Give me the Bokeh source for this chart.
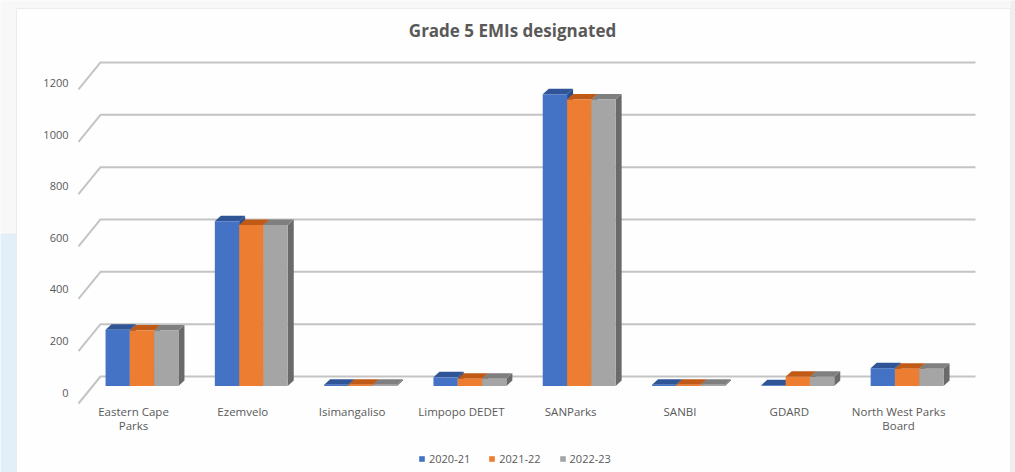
from bokeh.plotting import figure
from bokeh.models import Range1d, Legend, LegendItem
from bokeh.embed import file_html
from bokeh.resources import INLINE
from bokeh.core.properties import value

# ---- data -------------------------------------------------------------
categories = ["Eastern Cape\nParks", "Ezemvelo", "Isimangaliso", "Limpopo DEDET",
              "SANParks", "SANBI", "GDARD", "North West Parks\nBoard"]
series_names = ["2020-21", "2021-22", "2022-23"]
emis_2020_21 = [215, 630, 5, 33, 1115, 5, 3, 68]
emis_2021_22 = [212, 615, 5, 28, 1095, 5, 35, 66]
emis_2022_23 = [212, 615, 5, 28, 1095, 5, 35, 66]
y_ticks = [0, 200, 400, 600, 800, 1000, 1200]
title_text = "Grade 5 EMIs designated"

series_values = [emis_2020_21, emis_2021_22, emis_2022_23]
front_colors = ["#4472C4", "#ED7D31", "#A5A5A5"]
top_colors = ["#2F5597", "#C05A17", "#7F7F7F"]
side_colors = ["#2B4F8E", "#A94E12", "#6A6A6A"]

# ---- canvas geometry: category index on x, value on y -------------------
W, H = 1015, 472
X_PX0, X_STEP = 141.5, 109.3      # pixel of first group centre, pixels per category
Y_PX0, Y_K = 385.5, 0.2617        # pixel of value 0 on bar fronts, pixels per unit


def ux(px):
    return (px - X_PX0) / X_STEP


def uy(py):
    return (Y_PX0 - py) / Y_K


def dxu(d):
    return d / X_STEP


def dyu(d):
    return d / Y_K


p = figure(width=W, height=H, output_backend="svg", toolbar_location=None,
           x_range=Range1d(ux(0), ux(W)), y_range=Range1d(uy(H), uy(0)),
           x_axis_location=None, y_axis_location=None, min_border=0)
p.outline_line_color = None
p.grid.visible = False
p.background_fill_color = "#f8f8f9"
p.border_fill_color = "#f8f8f9"

# page backdrop and chart card
p.quad(left=[ux(0)], right=[ux(16)], bottom=[uy(H)], top=[uy(233)],
       fill_color="#e3eff8", line_color=None)
p.quad(left=[ux(1010)], right=[ux(W)], bottom=[uy(H)], top=[uy(0)],
       fill_color="#efeff1", line_color=None)
p.quad(left=[ux(16)], right=[ux(1010)], bottom=[uy(H + 2)], top=[uy(8)],
       fill_color="#fefefe", line_color="#ececed", line_width=1)

# ---- back wall gridlines with their slanted side-wall ends ---------------
back_shift = uy(376)          # value 0 on the back wall
front_shift = uy(403)         # value 0 on the front-left edge
grid_xs, grid_ys = [], []
for t in y_ticks:
    grid_xs.append([ux(78), ux(100), ux(975)])
    grid_ys.append([front_shift + t, back_shift + t, back_shift + t])
p.multi_line(xs=grid_xs, ys=grid_ys, line_color="#c4c4c4", line_width=2)

# tick labels on the front plane
tick_scale = 0.984
p.text(x=[ux(68)] * len(y_ticks), y=[uy(392) + t * tick_scale for t in y_ticks],
       text=[str(t) for t in y_ticks], text_align="right", text_baseline="middle",
       text_font=value("Open Sans"), text_font_size="11px", text_color="#595959")

# ---- 3D clustered bars -------------------------------------------------------
bar_w = dxu(24.3)
depth_x, depth_y = dxu(6), dyu(5.5)
legend_items = []
for s, (vals, name) in enumerate(zip(series_values, series_names)):
    lefts = [i - 1.5 * bar_w + s * bar_w for i in range(len(categories))]
    rights = [l + bar_w for l in lefts]
    side_xs = [[r, r + depth_x, r + depth_x, r] for r in rights]
    side_ys = [[0, depth_y, v + depth_y, v] for v in vals]
    p.patches(xs=side_xs, ys=side_ys, fill_color=side_colors[s], line_color=None)
    top_xs = [[l, r, r + depth_x, l + depth_x] for l, r in zip(lefts, rights)]
    top_ys = [[v, v, v + depth_y, v + depth_y] for v in vals]
    p.patches(xs=top_xs, ys=top_ys, fill_color=top_colors[s], line_color=None)
    front = p.quad(left=lefts, right=rights, bottom=[0] * len(vals), top=vals,
                   fill_color=front_colors[s], line_color=None)
    legend_items.append(LegendItem(label=name, renderers=[front]))

# ---- category labels ----------------------------------------------------------
p.text(x=[i + dxu(133 - X_PX0) for i in range(len(categories))],
       y=[uy(403)] * len(categories), text=categories,
       text_align="center", text_baseline="top", text_line_height=0.96,
       text_font=value("Open Sans"), text_font_size="11.5px", text_color="#595959")

# ---- title ------------------------------------------------------------------
p.text(x=[ux(512)], y=[uy(30)], text=[title_text], text_align="center",
       text_baseline="middle", text_font=value("Open Sans"), text_font_size="17px",
       text_font_style="bold", text_color="#595959")

# ---- legend -------------------------------------------------------------------
legend = Legend(items=legend_items, orientation="horizontal", location=(418, 6),
                glyph_width=7, glyph_height=7, label_standoff=4, spacing=18,
                padding=2, margin=0, background_fill_alpha=0, border_line_color=None,
                label_text_font="Open Sans", label_text_font_size="11px",
                label_text_color="#595959")
p.add_layout(legend, "center")

open("out.html", "w").write(file_html(p, INLINE))
